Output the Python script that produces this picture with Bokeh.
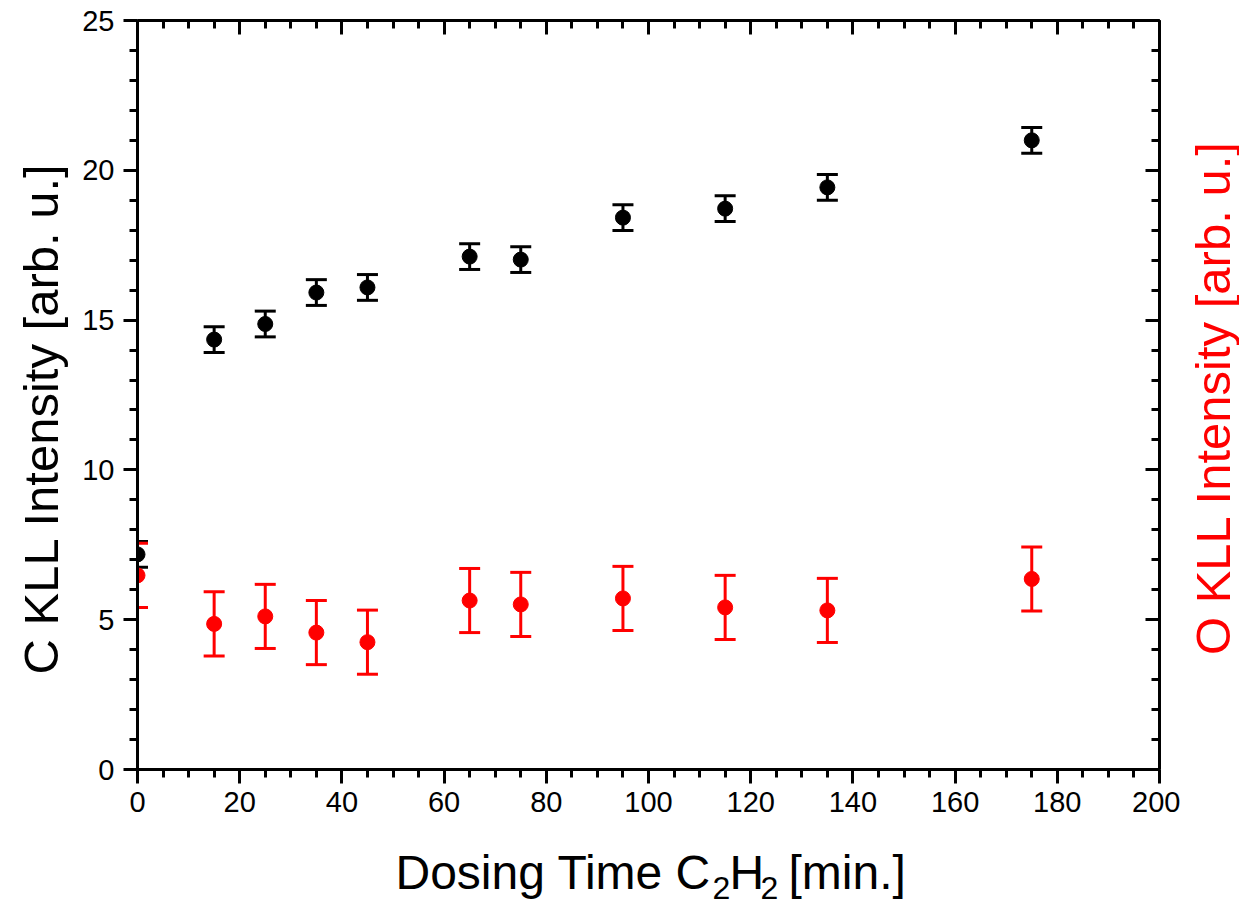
from math import pi
from bokeh.plotting import figure
from bokeh.layouts import row, column
from bokeh.models import (Range1d, LinearAxis, FixedTicker, Whisker, ColumnDataSource, TeeHead)
from bokeh.core.properties import value
from bokeh.embed import file_html
from bokeh.resources import INLINE

# ---- data ----
time_min = [0, 15, 25, 35, 45, 65, 75, 95, 115, 135, 175]
c_kll = [7.18, 14.35, 14.87, 15.92, 16.09, 17.12, 17.02, 18.42, 18.72, 19.43, 21.0]
c_err = [0.43, 0.43, 0.43, 0.43, 0.43, 0.43, 0.43, 0.43, 0.43, 0.43, 0.43]
o_kll = [6.48, 4.86, 5.11, 4.57, 4.25, 5.64, 5.51, 5.71, 5.41, 5.31, 6.36]
o_err = [1.07, 1.07, 1.07, 1.07, 1.07, 1.07, 1.07, 1.07, 1.07, 1.07, 1.07]

x_major = [0, 20, 40, 60, 80, 100, 120, 140, 160, 180, 200]
x_minor = list(range(0, 201, 5))
y_major = [0, 5, 10, 15, 20, 25]
y_minor = list(range(0, 26, 1))

y_title = "C KLL Intensity [arb. u.]"
y2_title = "O KLL Intensity [arb. u.]"
x_title_parts = ["Dosing Time C", "2", "H", "2", "[min.]"]

FONT = "Liberation Sans"
RED = "#ff0000"

# ---- main plot ----
p = figure(width=1105, height=830, x_range=Range1d(0, 200), y_range=Range1d(0, 25),
           output_backend="svg", toolbar_location=None,
           min_border_left=62, min_border_right=21, min_border_top=20, min_border_bottom=61)
p.grid.visible = False
p.outline_line_color = None

for ax, ticks, minor in ((p.xaxis[0], x_major, x_minor), (p.yaxis[0], y_major, y_minor)):
    ax.ticker = FixedTicker(ticks=ticks, minor_ticks=minor)
    ax.axis_line_width = 3
    ax.axis_line_color = "black"
    ax.major_tick_line_width = 3
    ax.minor_tick_line_width = 3
    ax.major_tick_out = 14
    ax.major_tick_in = 0
    ax.minor_tick_out = 8
    ax.minor_tick_in = 0
    ax.major_label_text_font = FONT
    ax.major_label_text_font_size = "29px"
    ax.major_label_text_color = "black"
p.xaxis[0].major_label_standoff = 8
p.yaxis[0].major_label_standoff = 9

for loc, ticks, minor in (("above", x_major, x_minor), ("right", y_major, y_minor)):
    ax = LinearAxis(ticker=FixedTicker(ticks=ticks, minor_ticks=minor))
    ax.axis_line_width = 3
    ax.axis_line_color = "black"
    ax.major_tick_line_width = 3
    ax.minor_tick_line_width = 3
    ax.major_tick_out = 0
    ax.major_tick_in = 14
    ax.minor_tick_out = 0
    ax.minor_tick_in = 8
    ax.major_label_text_font_size = "1px"
    ax.major_label_text_color = None
    ax.major_label_standoff = 0
    p.add_layout(ax, loc)

src_c = ColumnDataSource(dict(x=time_min, y=c_kll,
                              lo=[v - e for v, e in zip(c_kll, c_err)],
                              hi=[v + e for v, e in zip(c_kll, c_err)]))
src_o = ColumnDataSource(dict(x=time_min, y=o_kll,
                              lo=[v - e for v, e in zip(o_kll, o_err)],
                              hi=[v + e for v, e in zip(o_kll, o_err)]))

for src, col in ((src_c, "black"), (src_o, RED)):
    w = Whisker(source=src, base="x", lower="lo", upper="hi", dimension="height",
                line_color=col, line_width=3,
                lower_head=TeeHead(size=21, line_color=col, line_width=3),
                upper_head=TeeHead(size=21, line_color=col, line_width=3))
    p.add_layout(w)
    p.scatter("x", "y", source=src, size=15, marker="circle",
              fill_color=col, line_color=col)

# ---- title strips (pixel-unit figures holding the axis titles) ----
def strip(w, h):
    f = figure(width=w, height=h, x_range=Range1d(0, w), y_range=Range1d(0, h),
               x_axis_type=None, y_axis_type=None, output_backend="svg",
               toolbar_location=None, min_border=0)
    f.outline_line_color = None
    return f

left = strip(75, 830)
left.text(x=[40], y=[389], text=[y_title], angle=pi / 2, text_align="center",
          text_baseline="middle", text_font=value(FONT), text_font_size="49px",
          text_color="black")

right = strip(59, 830)
right.text(x=[32], y=[412], text=[y2_title], angle=pi / 2, text_align="center",
           text_baseline="middle", text_font=value(FONT), text_font_size="49px",
           text_color=RED)

bottom = strip(1239, 75)
xs = [395, 712, 729, 760, 788]
ys = [33, 18, 33, 18, 33]
sizes = ["48px", "32px", "48px", "32px", "48px"]
for t, xx, yy, fs in zip(x_title_parts, xs, ys, sizes):
    bottom.text(x=[xx], y=[yy], text=[t], text_align="left", text_baseline="alphabetic",
                text_font=value(FONT), text_font_size=fs, text_color="black")

layout = column(row(left, p, right), bottom)
open("out.html", "w").write(file_html(layout, INLINE))
